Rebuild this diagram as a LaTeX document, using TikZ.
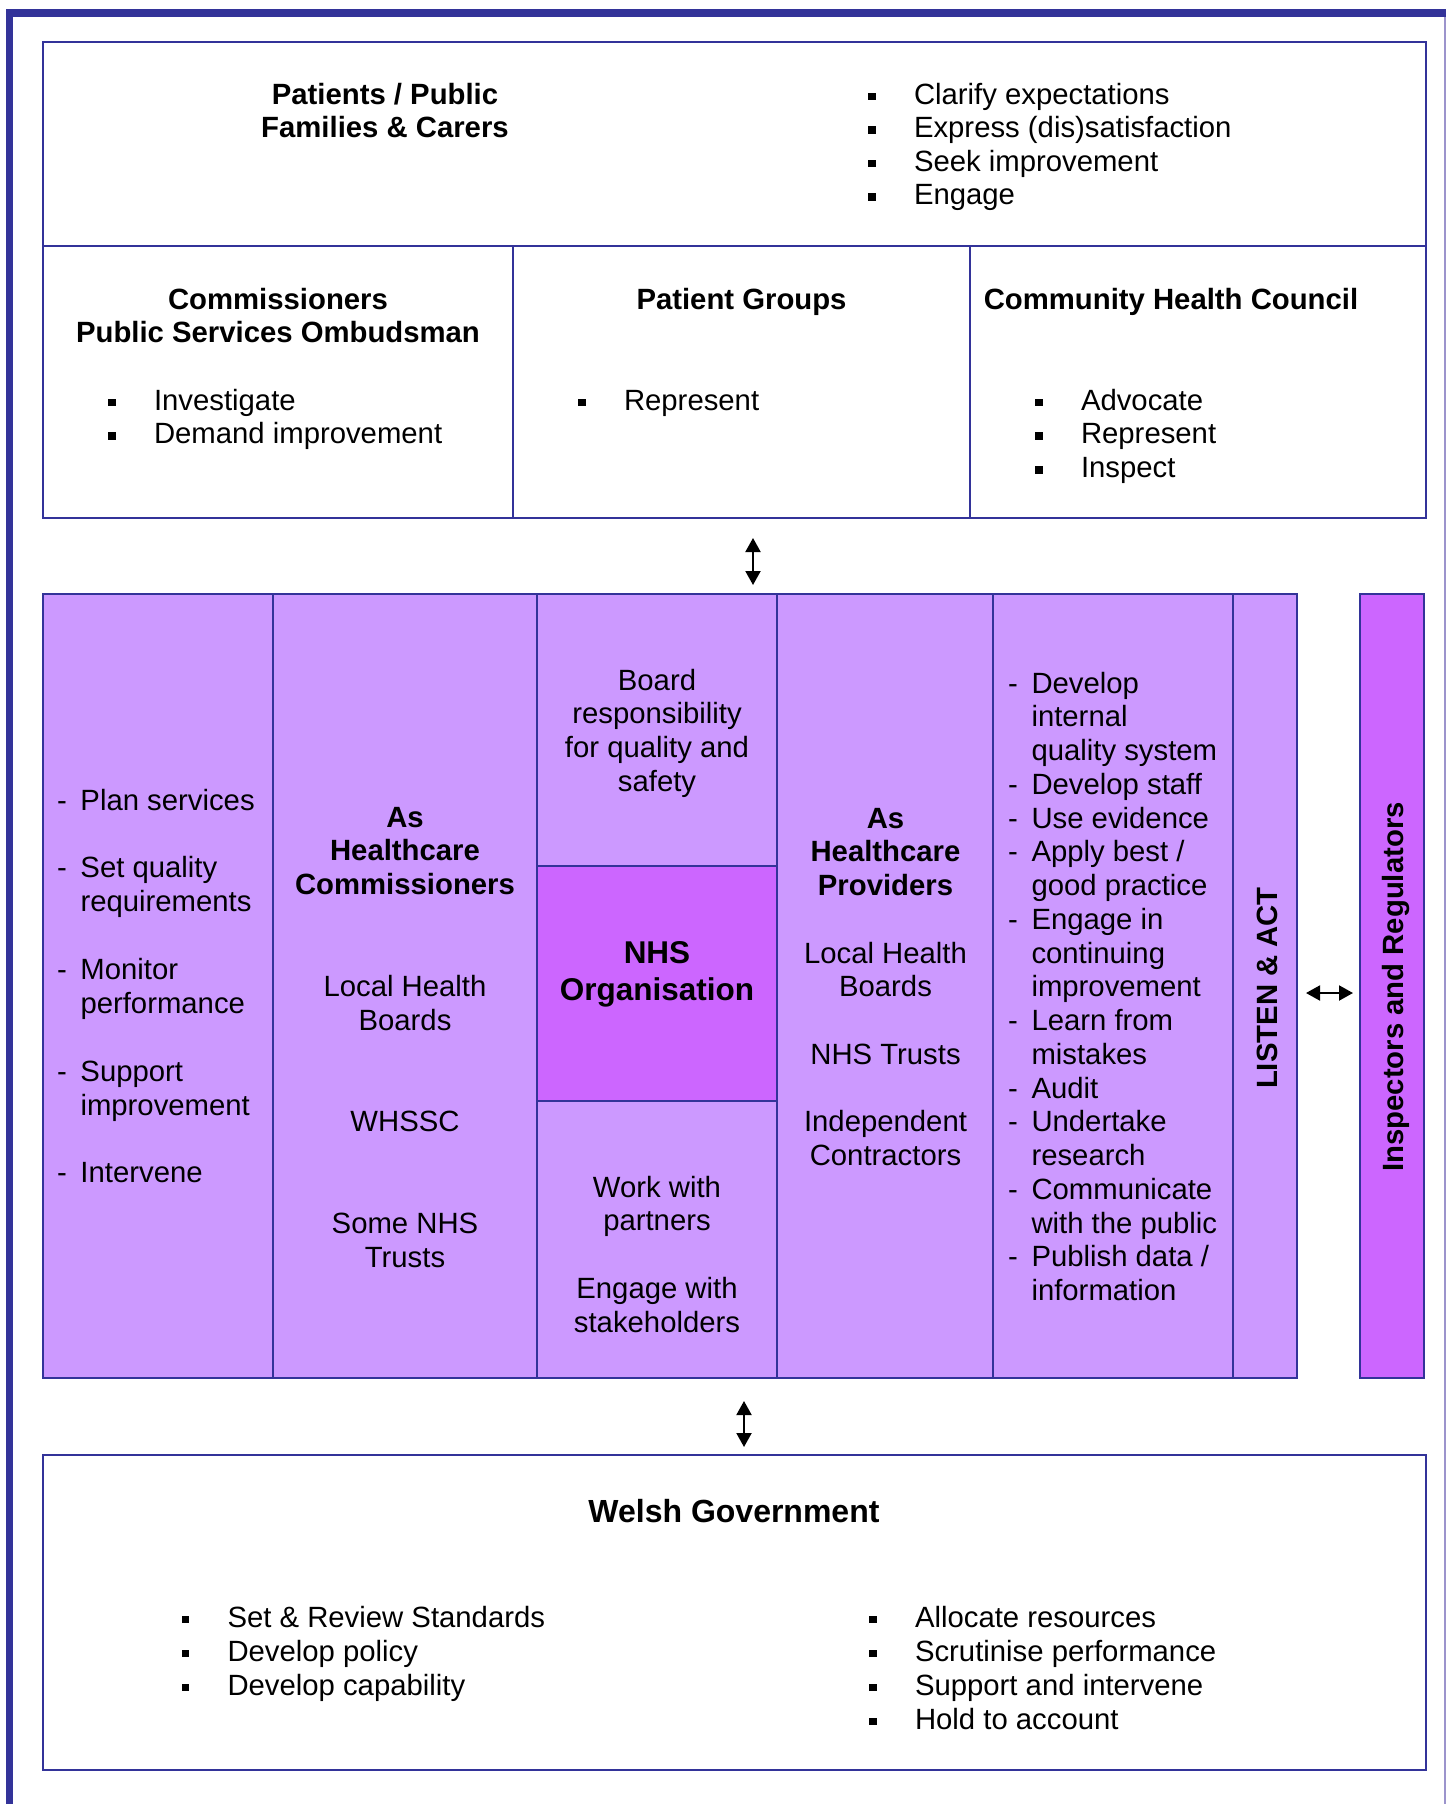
\documentclass[tikz,border=0pt]{standalone}
\usepackage{fontspec}
\setmainfont{Liberation Sans}
\usetikzlibrary{arrows.meta}

\definecolor{frameblue}{HTML}{333399}
\definecolor{lilac}{HTML}{CC99FF}
\definecolor{orchid}{HTML}{CC66FF}
\definecolor{edgegrey}{HTML}{9C94CC}

\newcommand\bodysize{\fontsize{29.3}{33.75}\selectfont}
\newcommand\sqbullet{\rule[3.8pt]{7.7pt}{7.7pt}}
\newcommand\bulletlist[1]{\begin{tabular}[t]{@{}p{46pt}@{}l@{}}#1\end{tabular}}
\newcommand\dashlist[1]{\begin{tabular}[t]{@{}p{23.5pt}@{}l@{}}#1\end{tabular}}
\newcommand\linestack[1]{\begin{tabular}[t]{@{}c@{}}#1\end{tabular}}

\begin{document}
\begin{tikzpicture}[
  x=1pt, y=-1pt,
  panel/.style={draw=frameblue, line width=2pt},
  txt/.style={inner sep=0pt, outer sep=0pt, font=\bodysize},
  lefttxt/.style={txt, anchor=base west},
  midtxt/.style={txt, anchor=base},
  headtxt/.style={txt, anchor=base, font=\bodysize\bfseries},
  sidetxt/.style={txt, anchor=base, rotate=90, font=\bodysize\bfseries},
  twoway/.style={{Triangle[width=15pt,length=14pt]}-{Triangle[width=15pt,length=14pt]}, line width=2pt},
]
\useasboundingbox (0,0) rectangle (1446,1804);

% page frame
\fill[frameblue] (6,9) rectangle (1446,17);
\fill[frameblue] (6,9) rectangle (13,1804);
\draw[edgegrey, line width=1.5pt] (1445,17) -- (1445,1804);

% upper panel: public and representative bodies
\draw[panel] (43,42) rectangle (1426,518);
\draw[panel] (43,246) -- (1426,246);
\draw[panel] (513,246) -- (513,518);
\draw[panel] (970,246) -- (970,518);

% central panel: the NHS organisation
\fill[lilac] (43,594) rectangle (1297,1378);
\fill[orchid] (537,866) rectangle (777,1101);
\draw[panel] (43,594) rectangle (1297,1378);
\foreach \x in {273,537,777,993,1233} \draw[panel] (\x,594) -- (\x,1378);
\draw[panel] (537,866) -- (777,866) (537,1101) -- (777,1101);

% inspectors column
\draw[panel, fill=orchid] (1360,594) rectangle (1424,1378);

% lower panel: government
\draw[panel] (43,1455) rectangle (1426,1770);

% --- upper panel text
\node[headtxt] (patients) at (385,104) {\linestack{Patients / Public\\Families \& Carers}};
\node[lefttxt, font=\fontsize{29.3}{33.6}\selectfont] (patientsroles) at (868,104)
  {\bulletlist{\sqbullet & Clarify expectations\\ \sqbullet & Express (dis)satisfaction\\ \sqbullet & Seek improvement\\ \sqbullet & Engage}};

\node[headtxt] (commissioners) at (278,309) {\linestack{Commissioners\\Public Services Ombudsman}};
\node[lefttxt] (commroles) at (108,410) {\bulletlist{\sqbullet & Investigate\\ \sqbullet & Demand improvement}};

\node[headtxt] (groups) at (741.5,309) {Patient Groups};
\node[lefttxt] (grouproles) at (578,410) {\bulletlist{\sqbullet & Represent}};

\node[headtxt] (chc) at (1171,309) {Community Health Council};
\node[lefttxt] (chcroles) at (1035,410) {\bulletlist{\sqbullet & Advocate\\ \sqbullet & Represent\\ \sqbullet & Inspect}};

% --- central panel text
\node[lefttxt, font=\fontsize{29.3}{33.9}\selectfont] (planning) at (57,810)
  {\dashlist{- & Plan services\\ & \\ - & Set quality\\ & requirements\\ & \\ - & Monitor\\ & performance\\ & \\ - & Support\\ & improvement\\ & \\ - & Intervene}};

\node[midtxt, font=\fontsize{29.3}{33.85}\selectfont] (asComm) at (405,827)
  {\linestack{\textbf{As}\\ \textbf{Healthcare}\\ \textbf{Commissioners}\\ \\ \\ Local Health\\ Boards\\ \\ \\ WHSSC\\ \\ \\ Some NHS\\ Trusts}};

\node[midtxt] (board) at (657,690) {\linestack{Board\\ responsibility\\ for quality and\\ safety}};
\node[midtxt, font=\fontsize{31.5}{37}\selectfont\bfseries] (nhs) at (657,963) {\linestack{NHS\\ Organisation}};
\node[midtxt] (partners) at (657,1197) {\linestack{Work with\\ partners\\ \\ Engage with\\ stakeholders}};

\node[midtxt] (asProv) at (885.5,828)
  {\linestack{\textbf{As}\\ \textbf{Healthcare}\\ \textbf{Providers}\\ \\ Local Health\\ Boards\\ \\ NHS Trusts\\ \\ Independent\\ Contractors}};

\node[lefttxt] (quality) at (1008,693)
  {\dashlist{- & Develop\\ & internal\\ & quality system\\ - & Develop staff\\ - & Use evidence\\ - & Apply best /\\ & good practice\\ - & Engage in\\ & continuing\\ & improvement\\ - & Learn from\\ & mistakes\\ - & Audit\\ - & Undertake\\ & research\\ - & Communicate\\ & with the public\\ - & Publish data /\\ & information}};

\node[sidetxt] (listen) at (1277,988) {LISTEN \& ACT};
\node[sidetxt] (inspectors) at (1403,987) {Inspectors and Regulators};

% --- lower panel text
\node[headtxt, font=\fontsize{32}{37}\selectfont\bfseries] (wg) at (734,1522) {Welsh Government};
\node[lefttxt, font=\fontsize{29.3}{34}\selectfont] (wgleft) at (181.5,1627)
  {\bulletlist{\sqbullet & Set \& Review Standards\\ \sqbullet & Develop policy\\ \sqbullet & Develop capability}};
\node[lefttxt, font=\fontsize{29.3}{34}\selectfont] (wgright) at (869,1627)
  {\bulletlist{\sqbullet & Allocate resources\\ \sqbullet & Scrutinise performance\\ \sqbullet & Support and intervene\\ \sqbullet & Hold to account}};

% --- two-way links between the panels
\coordinate (upA) at (753,538);
\coordinate (upB) at (753,585);
\coordinate (sideA) at (1306,993);
\coordinate (sideB) at (1353,993);
\coordinate (lowA) at (744,1401);
\coordinate (lowB) at (744,1447);
\draw[twoway] (upA) -- (upB);
\draw[twoway] (sideA) -- (sideB);
\draw[twoway] (lowA) -- (lowB);
\end{tikzpicture}
\end{document}
